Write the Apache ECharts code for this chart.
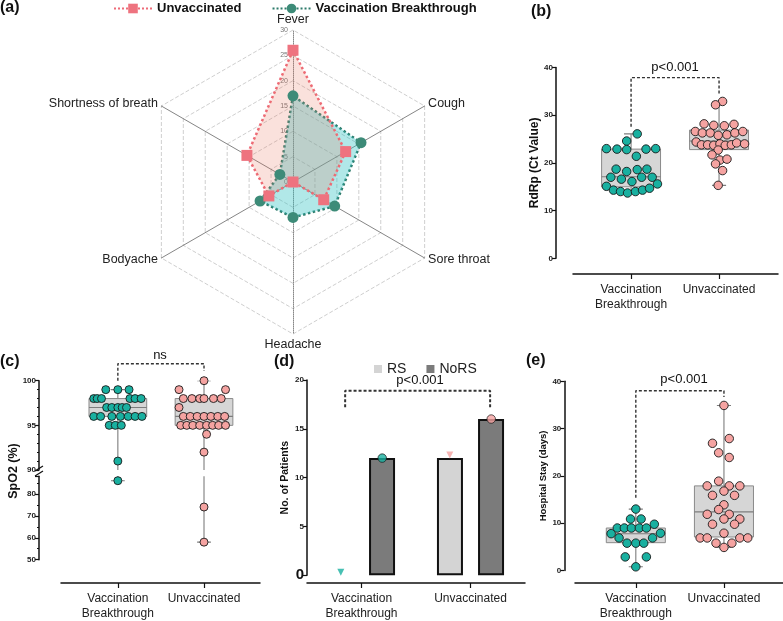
<!DOCTYPE html>
<html><head><meta charset="utf-8">
<script src="https://cdn.jsdelivr.net/npm/echarts@6/dist/echarts.min.js"></script>
<style>html,body{margin:0;padding:0;background:#fff}#c{width:783px;height:621px}</style>
</head><body><div id="c"></div><script>
// ---------- DATA ----------
const groups = ['Vaccination\nBreakthrough', 'Unvaccinated'];
const seriesNames = ['Unvaccinated', 'Vaccination Breakthrough'];
// (a) radar, counter-clockwise from top
const symptoms = ['Fever', 'Shortness of breath', 'Bodyache', 'Headache', 'Sore throat', 'Cough'];
const radarMax = 30;
const radarUnvac = [26, 10.5, 5.5, 0, 7, 12];
const radarVB = [17, 3, 7.5, 7, 9.5, 15.5];
// (b) RdRp Ct values [x-position, value]
const bVB = [[1.07,26.1],[0.95,24.6],[0.72,23.0],[0.84,22.9],[0.95,22.8],[1.17,22.9],[1.28,23.0],[1.06,21.4],[0.83,18.7],[0.95,18.2],[1.07,18.6],[1.18,18.7],[0.77,17.0],[0.89,16.6],[1.01,16.1],[1.12,17.0],[1.24,17.0],[0.72,15.1],[1.30,15.6],[0.80,14.3],[0.88,14.0],[0.96,13.7],[1.05,14.0],[1.13,14.3],[1.21,14.7]];
const bUn = [[2.04,32.9],[1.96,32.2],[1.83,28.2],[1.94,27.9],[2.06,27.8],[2.17,28.1],[1.73,26.6],[1.81,26.3],[1.90,26.3],[1.99,25.8],[2.09,25.9],[2.18,26.3],[2.27,26.6],[1.74,24.4],[1.80,23.8],[1.87,23.8],[1.94,23.7],[2.01,24.0],[2.07,23.7],[2.14,23.8],[2.20,24.2],[2.29,24.0],[1.99,22.7],[1.92,21.7],[2.01,20.6],[2.09,20.8],[1.96,19.8],[2.04,18.4],[1.99,15.3]];
// box: [x, min, q1, median, q3, max]
const bBox = [[1,13.7,15.0,17.1,22.9,26.1],[2,15.3,22.8,24.6,26.9,32.9]];
const bBracket = [[1,27.6],[1,37.9],[2,37.9],[2,34.4]];
// (c) SpO2
const cVB = [[0.86,99],[1.0,99],[1.13,99],[0.72,98],[0.76,98],[0.81,98],[1.14,98],[1.20,98],[1.27,98],[0.87,97],[0.93,97],[1.0,97],[1.05,97],[1.10,97],[0.72,96],[0.80,96],[0.93,96],[1.03,96],[1.12,96],[1.20,96],[1.28,96],[0.90,95],[0.97,95],[1.04,95],[1.0,91],[1.0,86]];
const cUn = [[2.0,100],[1.71,99],[2.25,99],[1.76,98],[1.86,98],[1.95,98],[2.0,98],[2.11,98],[2.20,98],[1.71,97],[1.76,96],[1.84,96],[1.92,96],[2.0,96],[2.08,96],[2.16,96],[2.24,96],[1.73,95],[1.80,95],[1.87,95],[1.95,95],[2.03,95],[2.10,95],[2.17,95],[2.25,95],[2.03,94],[2.0,92],[2.0,74],[2.0,58]];
const cBox = [[1,86,96,97,98,99],[2,58,95,96,98,100]];
const cBracket = [[1,100],[1,101.9],[2,101.9],[2,101.1]];
const cBreak = 90;
// (d) patients
const dSeries = ['RS', 'NoRS'];
const dRS = [0, 12];
const dNoRS = [12, 16];
const dMarkers = [[0.81,0],[1.19,12],[1.81,12],[2.19,16]];
const dBracket = [[0.85,17.2],[0.85,18.9],[2.18,18.9],[2.18,17.2]];
// (e) hospital stay
const eVB = [[1.0,13.0],[0.94,10.9],[1.06,10.9],[1.21,9.8],[0.72,7.8],[0.79,9.0],[0.87,9.0],[0.95,9.0],[1.04,9.0],[1.12,9.0],[0.81,6.9],[1.28,7.9],[1.19,6.9],[0.90,5.8],[1.0,5.8],[1.09,5.8],[0.88,2.9],[1.12,2.9],[1.0,0.8]];
const eUn = [[2.0,34.9],[2.06,27.9],[1.87,26.9],[1.94,24.9],[2.06,23.9],[1.81,17.9],[1.94,18.9],[2.06,17.9],[2.18,17.9],[1.87,15.9],[2.0,16.8],[2.12,15.9],[2.0,13.9],[1.94,12.9],[2.06,11.9],[1.81,11.9],[2.0,10.9],[2.18,10.9],[1.87,9.8],[2.12,9.8],[2.0,7.9],[1.73,6.9],[1.81,6.9],[2.18,6.9],[2.27,6.9],[1.91,5.8],[2.09,5.8],[2.0,4.9]];
const eBox = [[1,0.8,5.9,7.8,9.0,13.0],[2,4.9,7.1,12.4,17.9,34.9]];
const eBracket = [[1,15.4],[1,38],[2,38],[2,36.7]];

// ---------- STYLE ----------
const FF = "'Liberation Sans', Arial, sans-serif";
const PINK_LINE = '#ee6b78', PINK_MK = '#ee737f';
const TEAL_LINE = '#2d7b6b', TEAL_MK = '#3d8b78';
const DOT_TEAL = '#19b0a0', DOT_PINK = '#f5a3a1';
const BOX_HALF = 0.335, CAP_HALF = 0.08;

function boxItem(params, api) {
  const x = api.value(0), mn = api.value(1), q1 = api.value(2), md = api.value(3), q3 = api.value(4), mx = api.value(5);
  const c = (a, b) => api.coord([a, b]);
  const ls = {stroke: '#7d7d7d', lineWidth: 1.1};
  const seg = (a, b) => ({type: 'line', shape: {x1: a[0], y1: a[1], x2: b[0], y2: b[1]}, style: ls});
  const tl = c(x - BOX_HALF, q3), br = c(x + BOX_HALF, q1);
  return {type: 'group', children: [
    seg(c(x, q3), c(x, mx)),
    seg(c(x, q1), c(x, mn)),
    seg(c(x - CAP_HALF, mx), c(x + CAP_HALF, mx)),
    seg(c(x - CAP_HALF, mn), c(x + CAP_HALF, mn)),
    {type: 'rect', shape: {x: tl[0], y: tl[1], width: br[0] - tl[0], height: br[1] - tl[1]}, style: {fill: '#d6d6d6', stroke: '#8a8a8a', lineWidth: 1}},
    seg(c(x - BOX_HALF, md), c(x + BOX_HALF, md))
  ]};
}
function boxSeries(data, xi, yi) {
  return {type: 'custom', xAxisIndex: xi, yAxisIndex: yi, data: data, renderItem: boxItem, clip: true, z: 1, silent: true};
}
function dots(data, color, xi, yi, size) {
  return {type: 'scatter', xAxisIndex: xi, yAxisIndex: yi, data: data, symbolSize: size || 8.5, z: 3,
    itemStyle: {color: color, borderColor: '#1a1a1a', borderWidth: 0.9, opacity: 1}, clip: false, silent: true};
}
function bracket(data, xi, yi, width) {
  return {type: 'line', xAxisIndex: xi, yAxisIndex: yi, data: data, symbol: 'none', clip: false, z: 4, silent: true,
    lineStyle: {color: '#333', width: width || 1.4, type: [3, 2]}};
}
const axLine = {show: true, onZero: false, lineStyle: {color: '#111', width: 1.5}};
const axTick = {show: true, length: 4, lineStyle: {color: '#111', width: 1.2}};
const yLab = {fontSize: 8, fontWeight: 'bold', color: '#222', margin: 3, fontFamily: FF};
function yAx(gi, min, max, interval, offset, extra) {
  return Object.assign({type: 'value', gridIndex: gi, min: min, max: max, interval: interval, offset: offset,
    axisLine: axLine, axisTick: axTick, axisLabel: yLab, splitLine: {show: false},
    nameLocation: 'middle', nameTextStyle: {fontWeight: 'bold', color: '#111', fontFamily: FF}}, extra || {});
}
function xAx(gi, min, max, offset, show) {
  return {type: 'value', gridIndex: gi, min: min, max: max, offset: offset, show: show,
    axisLine: axLine, splitLine: {show: false},
    axisTick: {show: true, length: 5, customValues: [1, 2], lineStyle: {color: '#111', width: 1.2}},
    axisLabel: {customValues: [1, 2], formatter: v => groups[Math.round(v) - 1], fontSize: 12, lineHeight: 15,
      margin: 8, color: '#222', fontFamily: FF, verticalAlign: 'top'}};
}
const t = (text, left, top, size, weight, align) => ({text: text, left: left, top: top, padding: 0, textAlign: align || 'left',
  textStyle: {fontSize: size, fontWeight: weight, color: '#111', fontFamily: FF}});

const option = {
  backgroundColor: '#fff',
  animation: false,
  textStyle: {fontFamily: FF},
  title: [
    t('(a)', 0, 0, 16, 'bold'), t('(b)', 531, 4, 16, 'bold'), t('(c)', 0, 354, 16, 'bold'),
    t('(d)', 274, 354, 16, 'bold'), t('(e)', 526, 353, 16, 'bold'),
    t('p<0.001', 675, 61, 13, 'normal', 'center'), t('ns', 160, 349, 13, 'normal', 'center'),
    t('p<0.001', 420, 374, 13, 'normal', 'center'), t('p<0.001', 684, 373, 13, 'normal', 'center')
  ],
  legend: [
    {data: seriesNames, left: 108, top: -3, itemWidth: 38, itemHeight: 12, itemGap: 30,
      textStyle: {fontSize: 13, fontWeight: 'bold', color: '#111', fontFamily: FF}, selectedMode: false},
    {data: dSeries, left: 369, top: 357, itemWidth: 8, itemHeight: 8, itemGap: 20, icon: 'rect',
      itemStyle: {borderWidth: 0}, textStyle: {fontSize: 14, color: '#222', fontFamily: FF}, selectedMode: false}
  ],
  radar: {
    center: [293, 182], radius: 152, startAngle: 90, splitNumber: 6, shape: 'polygon',
    indicator: symptoms.map((n, i) => i === 0 ?
      {name: n, min: 0, max: radarMax, axisLabel: {show: true, fontSize: 7, color: '#777', margin: 5}, axisLine: {lineStyle: {color: '#888', type: 'dotted', width: 1}}} :
      (n === 'Headache' ? {name: n, min: 0, max: radarMax, axisLine: {lineStyle: {color: '#888', type: 'dotted', width: 1}}} : {name: n, min: 0, max: radarMax})),
    axisName: {color: '#222', fontSize: 12.5, fontFamily: FF},
    nameGap: 4,
    splitLine: {lineStyle: {color: '#cfcfcf', type: 'dashed', width: 1}},
    splitArea: {show: false},
    axisLine: {lineStyle: {color: '#666', width: 0.8}},
    axisLabel: {show: false}
  },
  grid: [
    {left: 573, top: 67.6, width: 205, height: 190.7},
    {left: 61, top: 380.7, width: 199, height: 89.3},
    {left: 61, top: 476.3, width: 199, height: 85.4},
    {left: 307, top: 380, width: 218, height: 197.3},
    {left: 575, top: 381.3, width: 208, height: 192}
  ],
  xAxis: [
    xAx(0, 0.34, 2.67, 15.7, true),
    xAx(1, 0.34, 2.65, 0, false),
    xAx(2, 0.34, 2.65, 23.3, true),
    {type: 'category', gridIndex: 3, data: groups, offset: 7.7, axisLine: axLine,
      axisTick: {show: true, alignWithLabel: true, length: 5, lineStyle: {color: '#111', width: 1.2}},
      axisLabel: {fontSize: 12, lineHeight: 15, margin: 8, color: '#222', fontFamily: FF, verticalAlign: 'top'}},
    {type: 'value', gridIndex: 3, min: 0.5, max: 2.5, show: false},
    xAx(4, 0.31, 2.67, 12.4, true)
  ],
  yAxis: [
    yAx(0, 0, 40, 10, 17, {name: 'RdRp (Ct Value)', nameGap: 13, nameTextStyle: {fontWeight: 'bold', fontSize: 12, color: '#111', fontFamily: FF}}),
    yAx(1, 90, 100, 5, 22, {minorTick: {show: true, splitNumber: 5, length: 2, lineStyle: {color: '#111'}}}),
    yAx(2, 50, 88, 10, 22, {minorTick: {show: true, splitNumber: 2, length: 2, lineStyle: {color: '#111'}}, axisLabel: Object.assign({}, yLab, {showMaxLabel: false})}),
    yAx(3, 0, 20, 5, 0, {name: 'No. of Patients', nameGap: 16, nameTextStyle: {fontWeight: 'bold', fontSize: 10.5, color: '#111', fontFamily: FF},
      axisLabel: Object.assign({}, yLab, {formatter: v => v === 0 ? '{big|0}' : String(v), rich: {big: {fontSize: 15, fontWeight: 'bold', color: '#111'}}})}),
    yAx(4, 0, 40, 10, 10.7, {name: 'Hospital Stay (days)', nameGap: 13, nameTextStyle: {fontWeight: 'bold', fontSize: 9.5, color: '#111', fontFamily: FF}})
  ],
  graphic: [
    {type: 'text', x: 14, y: 471, rotation: Math.PI / 2, style: {text: 'SpO2 (%)', font: 'bold 12.5px ' + FF, fill: '#111', textAlign: 'center', textVerticalAlign: 'middle'}},
    {type: 'line', shape: {x1: 35, y1: 471, x2: 43, y2: 466}, style: {stroke: '#111', lineWidth: 1.2}},
    {type: 'line', shape: {x1: 35, y1: 476, x2: 43, y2: 471}, style: {stroke: '#111', lineWidth: 1.2}}
  ],
  series: [
    // legend proxies for the radar
    {type: 'line', name: seriesNames[0], xAxisIndex: 0, yAxisIndex: 0, data: [], symbol: 'rect', symbolSize: 11,
      itemStyle: {color: PINK_MK}, lineStyle: {color: PINK_LINE, type: 'dotted', width: 3}},
    {type: 'line', name: seriesNames[1], xAxisIndex: 0, yAxisIndex: 0, data: [], symbol: 'circle', symbolSize: 11,
      itemStyle: {color: TEAL_MK}, lineStyle: {color: TEAL_LINE, type: 'dotted', width: 3}},
    {type: 'radar', silent: true, data: [
      {name: seriesNames[1], value: radarVB, symbol: 'circle', symbolSize: 11,
        lineStyle: {color: TEAL_LINE, type: 'dotted', width: 2.5}, itemStyle: {color: TEAL_MK},
        areaStyle: {color: 'rgba(51,195,195,0.55)'}},
      {name: seriesNames[0], value: radarUnvac, symbol: 'rect', symbolSize: 11,
        lineStyle: {color: PINK_LINE, type: 'dotted', width: 2.5}, itemStyle: {color: PINK_MK},
        areaStyle: {color: 'rgba(230,112,88,0.3)'}}
    ]},
    // (b)
    boxSeries(bBox, 0, 0), dots(bVB, DOT_TEAL, 0, 0), dots(bUn, DOT_PINK, 0, 0), bracket(bBracket, 0, 0),
    // (c)
    boxSeries(cBox, 1, 1), boxSeries(cBox, 2, 2),
    dots(cVB.filter(p => p[1] >= cBreak), DOT_TEAL, 1, 1, 8), dots(cUn.filter(p => p[1] >= cBreak), DOT_PINK, 1, 1, 8),
    dots(cVB.filter(p => p[1] < cBreak), DOT_TEAL, 2, 2, 8), dots(cUn.filter(p => p[1] < cBreak), DOT_PINK, 2, 2, 8),
    bracket(cBracket, 1, 1),
    // (d)
    {type: 'bar', name: dSeries[0], xAxisIndex: 3, yAxisIndex: 3, barWidth: 26, barGap: '58%',
      data: dRS.map(v => v === 0 ? {value: v, itemStyle: {borderWidth: 0}} : v),
      itemStyle: {color: '#d4d4d4', borderColor: '#111', borderWidth: 2}},
    {type: 'bar', name: dSeries[1], xAxisIndex: 3, yAxisIndex: 3, barWidth: 26,
      data: dNoRS, itemStyle: {color: '#7b7b7b', borderColor: '#111', borderWidth: 2}},
    {type: 'scatter', xAxisIndex: 4, yAxisIndex: 3, z: 5, silent: true, clip: false,
      data: dMarkers.map((p, i) => ({value: p,
        symbol: i % 2 === 0 ? 'triangle' : 'circle', symbolRotate: i % 2 === 0 ? 180 : 0,
        symbolSize: i % 2 === 0 ? 7 : 8.5, symbolOffset: i % 2 === 0 ? [0, -3] : [0, 0],
        itemStyle: {color: i < 2 ? DOT_TEAL : DOT_PINK, borderColor: i % 2 === 0 ? 'transparent' : '#1a1a1a', borderWidth: 0.9}}))},
    bracket(dBracket, 4, 3, 2),
    // (e)
    boxSeries(eBox, 5, 4), dots(eVB, DOT_TEAL, 5, 4), dots(eUn, DOT_PINK, 5, 4), bracket(eBracket, 5, 4)
  ]
};
const chart = echarts.init(document.getElementById('c'), null, {renderer: 'canvas'});
chart.setOption(option);
</script></body></html>
